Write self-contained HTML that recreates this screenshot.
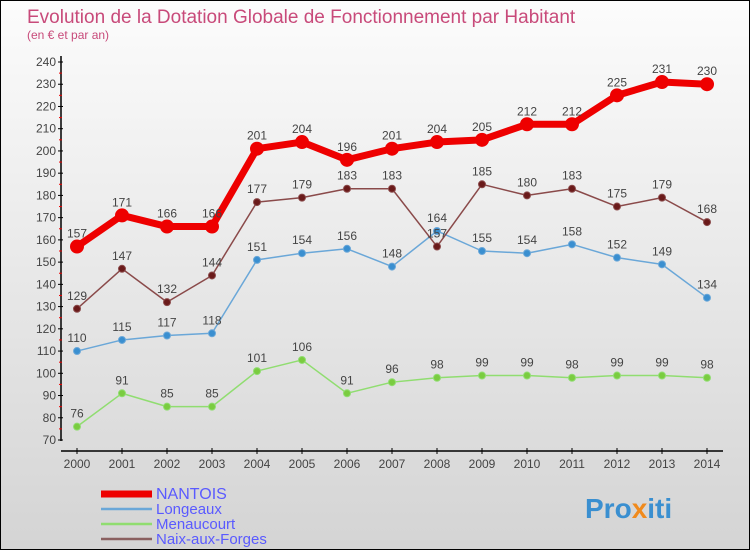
<!DOCTYPE html>
<html><head><meta charset="utf-8"><style>
body{margin:0}
#c{width:750px;height:550px;position:relative;box-sizing:border-box;border:1px solid #000;background:linear-gradient(#fcfcfc,#d4d4d4);font-family:"Liberation Sans",sans-serif;overflow:hidden}
svg text{font-family:"Liberation Sans",sans-serif}
</style></head><body>
<div id="c">
<svg id="s" width="750" height="550">
<text x="26" y="22" font-size="19" fill="#c84a7a">Evolution de la Dotation Globale de Fonctionnement par Habitant</text>
<text x="26" y="38" font-size="12" fill="#c84a7a">(en € et par an)</text>
<text x="584" y="517" font-size="28" font-weight="bold" fill="#3a8fd0">Pro<tspan fill="#f08a1c">x</tspan>iti</text>
</svg>
</div>
<script>
const years=[2000,2001,2002,2003,2004,2005,2006,2007,2008,2009,2010,2011,2012,2013,2014];
const nantois=[157,171,166,166,201,204,196,201,204,205,212,212,225,231,230];
const longeaux=[110,115,117,118,151,154,156,148,164,155,154,158,152,149,134];
const menaucourt=[76,91,85,85,101,106,91,96,98,99,99,98,99,99,98];
const naix=[129,147,132,144,177,179,183,183,157,185,180,183,175,179,168];
const yTicks=[70,80,90,100,110,120,130,140,150,160,170,180,190,200,210,220,230,240];
const NS="http://www.w3.org/2000/svg";
const s=document.getElementById('s');
const X=i=>76+i*45;
const Y=v=>439-(v-70)*(378/170);
function el(t,a,p){const e=document.createElementNS(NS,t);for(const k in a)e.setAttribute(k,a[k]);(p||s).appendChild(e);return e;}
const ax=el('g',{});


el('line',{x1:60,y1:55,x2:60,y2:440,stroke:'#000','stroke-width':1.5},ax);
el('line',{x1:60,y1:450,x2:722,y2:450,stroke:'#000','stroke-width':1.5},ax);
yTicks.forEach(v=>{
 el('line',{x1:57,x2:62,y1:Y(v),y2:Y(v),stroke:'#000'},ax);
 if(v<240) el('line',{x1:58,x2:61,y1:Y(v+5),y2:Y(v+5),stroke:'#e00'},ax);
 const t=el('text',{x:55,y:Y(v)+4,'font-size':12,'text-anchor':'end',fill:'#444'},ax);
 t.textContent=v;
 
 
});
years.forEach((yr,i)=>{
 el('line',{x1:X(i),x2:X(i),y1:447,y2:453,stroke:'#000'},ax);
 const t=el('text',{x:X(i),y:467,'font-size':12,'text-anchor':'middle',fill:'#444'},ax);
 t.textContent=yr;
 
 
});
function series(data,color,dot,w,r,name){
 const g=el('g',{});
 
 
 const pts=data.map((v,i)=>X(i)+','+Y(v)).join(' ');
 el('polyline',{points:pts,fill:'none',stroke:color,'stroke-width':w,'stroke-linejoin':'round'},g);
 data.forEach((v,i)=>{
  const c=el('circle',{cx:X(i),cy:Y(v),r:r,fill:dot,stroke:color,'stroke-width':1},g);
  
  
  const t=el('text',{x:X(i),y:Y(v)-9,'font-size':12,'text-anchor':'middle',fill:'#444'},g);
  t.textContent=v;
  
  
 });
}
series(menaucourt,'#90dd70','#7acc40',1.5,3.5,'menaucourt');
series(longeaux,'#6aa7d8','#3a8fd0',1.5,3.5,'longeaux');
series(naix,'#8a4a4a','#6a1a1a',1.5,3.5,'naix-aux-forges');
series(nantois,'#ee0000','#ee0000',7,6.5,'nantois');
const legend=[['NANTOIS','#ee0000',7],['Longeaux','#6aa7d8',2.5],['Menaucourt','#90dd70',2.5],['Naix-aux-Forges','#8a6060',2.5]];
legend.forEach((d,i)=>{
 const g=el('g',{});
 
 
 const y=492+i*15;
 el('line',{x1:100,x2:151,y1:y+1,y2:y+1,stroke:d[1],'stroke-width':d[2]},g);
 const t=el('text',{x:155,y:y+6,'font-size':i==0?16:15,fill:'#5a5aff'},g);
 t.textContent=d[0];
});
</script>
</body></html>
